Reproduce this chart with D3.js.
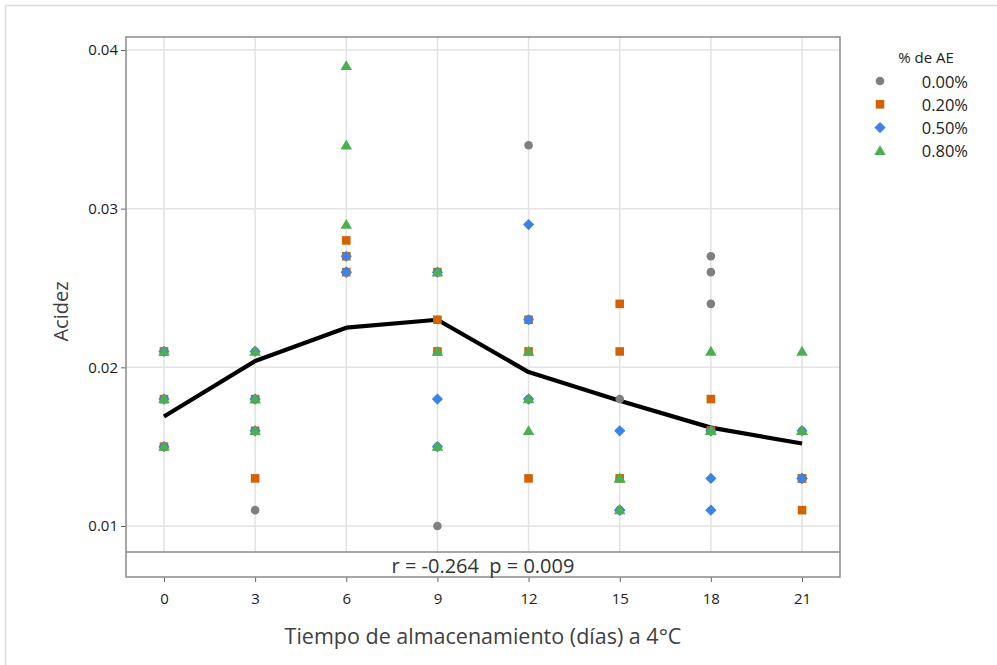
<!DOCTYPE html>
<html>
<head>
<meta charset="utf-8">
<script src="https://cdn.jsdelivr.net/npm/d3@7"></script>
<style>
  html, body { margin: 0; padding: 0; background: #fff; }
  svg { display: block; }
  text { font-family: "Open Sans", "Noto Sans", sans-serif; white-space: pre; }
</style>
</head>
<body>
<script>
// ---------- DATA ----------
const days = [0, 3, 6, 9, 12, 15, 18, 21];
const xTickLabels = ["0", "3", "6", "9", "12", "15", "18", "21"];
const yTicks = [0.01, 0.02, 0.03, 0.04];
const yTickLabels = ["0.01", "0.02", "0.03", "0.04"];
const seriesNames = ["0.00%", "0.20%", "0.50%", "0.80%"];

// [day, acidez]
const ae000 = [
  [0,0.021],[0,0.018],[0,0.015],
  [3,0.021],[3,0.018],[3,0.011],
  [6,0.026],[6,0.027],[6,0.026],
  [9,0.021],[9,0.015],[9,0.010],
  [12,0.034],[12,0.023],[12,0.018],
  [15,0.018],[15,0.013],[15,0.011],
  [18,0.027],[18,0.026],[18,0.024],
  [21,0.016],[21,0.013],[21,0.013]
];
const ae020 = [
  [0,0.021],[0,0.018],[0,0.015],
  [3,0.018],[3,0.016],[3,0.013],
  [6,0.028],[6,0.026],[6,0.027],
  [9,0.023],[9,0.021],[9,0.026],
  [12,0.023],[12,0.021],[12,0.013],
  [15,0.024],[15,0.021],[15,0.013],
  [18,0.018],[18,0.016],[18,0.016],
  [21,0.013],[21,0.011],[21,0.013]
];
const ae050 = [
  [0,0.021],[0,0.018],[0,0.015],
  [3,0.021],[3,0.018],[3,0.016],
  [6,0.027],[6,0.026],[6,0.026],
  [9,0.026],[9,0.018],[9,0.015],
  [12,0.029],[12,0.023],[12,0.018],
  [15,0.016],[15,0.011],[15,0.011],
  [18,0.013],[18,0.011],[18,0.016],
  [21,0.016],[21,0.013],[21,0.013]
];
const ae080 = [
  [0,0.021],[0,0.018],[0,0.015],
  [3,0.021],[3,0.018],[3,0.016],
  [6,0.039],[6,0.034],[6,0.029],
  [9,0.026],[9,0.021],[9,0.015],
  [12,0.021],[12,0.018],[12,0.016],
  [15,0.013],[15,0.011],[15,0.013],
  [18,0.021],[18,0.016],[18,0.016],
  [21,0.021],[21,0.016],[21,0.016]
];
// trend line (mean connect line)
const trendValues = [0.0169, 0.0204, 0.0225, 0.0230, 0.0197, 0.0179, 0.0162, 0.0152];

const statText = "r = -0.264  p = 0.009";

// ---------- LAYOUT ----------
const W = 997, H = 665;
const frame = { left: 126, right: 840, top: 37, plotBottom: 552, bottom: 577 };
const colors = ["#7f7f7f", "#d36200", "#3b84e6", "#4caf50"];
const shapes = ["circle", "square", "diamond", "triangle"];
const FONT = "'Open Sans', 'Noto Sans', sans-serif";

const svg = d3.select("body").append("svg").attr("width", W).attr("height", H);

// page border (top and left)
svg.append("line").attr("x1", 5).attr("x2", W).attr("y1", 5.5).attr("y2", 5.5)
  .attr("stroke", "#dcdcdc").attr("stroke-width", 1.5);
svg.append("line").attr("x1", 5.5).attr("x2", 5.5).attr("y1", 5).attr("y2", H)
  .attr("stroke", "#dcdcdc").attr("stroke-width", 1.5);

const x = d3.scaleLinear().domain([-1.25, 22.25]).range([frame.left, frame.right]);
const y = d3.scaleLinear().domain([0.01, 0.04]).range([526, 50]);

// gridlines
const grid = svg.append("g");
grid.selectAll(".vg").data(days).join("line")
  .attr("x1", d => x(d)).attr("x2", d => x(d))
  .attr("y1", frame.top).attr("y2", frame.plotBottom)
  .attr("stroke", "#e3e3e3").attr("stroke-width", 1.5);
grid.selectAll(".hg").data(yTicks).join("line")
  .attr("x1", frame.left).attr("x2", frame.right)
  .attr("y1", d => y(d)).attr("y2", d => y(d))
  .attr("stroke", "#e3e3e3").attr("stroke-width", 1.5);

// axes
const yAxis = d3.axisLeft(y).tickValues(yTicks).tickFormat((d, i) => yTickLabels[i]).tickSize(5).tickPadding(3);
const gy = svg.append("g").attr("transform", `translate(${frame.left},0)`).call(yAxis);
gy.select(".domain").remove();
gy.selectAll(".tick line").attr("stroke", "#666");
gy.selectAll(".tick text").attr("font-size", 15).attr("fill", "#222").attr("font-family", FONT);

const xAxis = d3.axisBottom(x).tickValues(days).tickFormat((d, i) => xTickLabels[i]).tickSize(5).tickPadding(11);
const gx = svg.append("g").attr("transform", `translate(0,${frame.bottom})`).call(xAxis);
gx.select(".domain").remove();
gx.selectAll(".tick line").attr("stroke", "#666");
gx.selectAll(".tick text").attr("font-size", 15).attr("fill", "#222").attr("font-family", FONT);

// trend line
const line = d3.line().x((d, i) => x(days[i])).y(d => y(d));
svg.append("path").datum(trendValues).attr("d", line)
  .attr("fill", "none").attr("stroke", "#000").attr("stroke-width", 4.2)
  .attr("stroke-linejoin", "round");

// marker path generators
function markerPath(shape) {
  switch (shape) {
    case "circle": { const r = 4.3; return `M${-r},0A${r},${r} 0 1,0 ${r},0A${r},${r} 0 1,0 ${-r},0Z`; }
    case "square": { const s = 4.3; return `M${-s},${-s}H${s}V${s}H${-s}Z`; }
    case "diamond": { const s = 5.6; return `M0,${-s}L${s},0L0,${s}L${-s},0Z`; }
    case "triangle": { return `M0,-5.6L5.8,4.2L-5.8,4.2Z`; }
  }
}

const allSeries = [ae000, ae020, ae050, ae080];
allSeries.forEach((data, si) => {
  svg.append("g").selectAll("path").data(data).join("path")
    .attr("d", markerPath(shapes[si]))
    .attr("transform", d => `translate(${x(d[0])},${y(d[1])})`)
    .attr("fill", colors[si]);
});

// frame
svg.append("rect").attr("x", frame.left).attr("y", frame.top)
  .attr("width", frame.right - frame.left).attr("height", frame.bottom - frame.top)
  .attr("fill", "none").attr("stroke", "#8a8a8a").attr("stroke-width", 1.5);
svg.append("line").attr("x1", frame.left).attr("x2", frame.right)
  .attr("y1", frame.plotBottom).attr("y2", frame.plotBottom)
  .attr("stroke", "#8a8a8a").attr("stroke-width", 1.5);

// stat text
svg.append("text").attr("x", (frame.left + frame.right) / 2).attr("y", 573)
  .attr("text-anchor", "middle").attr("font-size", 20).attr("fill", "#333")
  .text(statText);

// axis titles
svg.append("text").attr("x", (frame.left + frame.right) / 2).attr("y", 644)
  .attr("text-anchor", "middle").attr("font-size", 21.5).attr("fill", "#404040")
  .text("Tiempo de almacenamiento (días) a 4°C");
svg.append("text").attr("transform", `translate(68,${(frame.top + frame.plotBottom) / 2 + 17}) rotate(-90)`)
  .attr("text-anchor", "middle").attr("font-size", 20).attr("fill", "#404040")
  .text("Acidez");

// legend
const lg = svg.append("g");
lg.append("text").attr("x", 926).attr("y", 63).attr("text-anchor", "middle")
  .attr("font-size", 15).attr("fill", "#222").text("% de AE");
seriesNames.forEach((name, i) => {
  const yy = 82 + i * 23.3;
  lg.append("path").attr("d", markerPath(shapes[i]))
    .attr("transform", `translate(880,${yy - 1})`).attr("fill", colors[i]);
  lg.append("text").attr("x", 968).attr("y", yy + 5.5).attr("text-anchor", "end")
    .attr("font-size", 16.5).attr("fill", "#222").text(name);
});
</script>
</body>
</html>
